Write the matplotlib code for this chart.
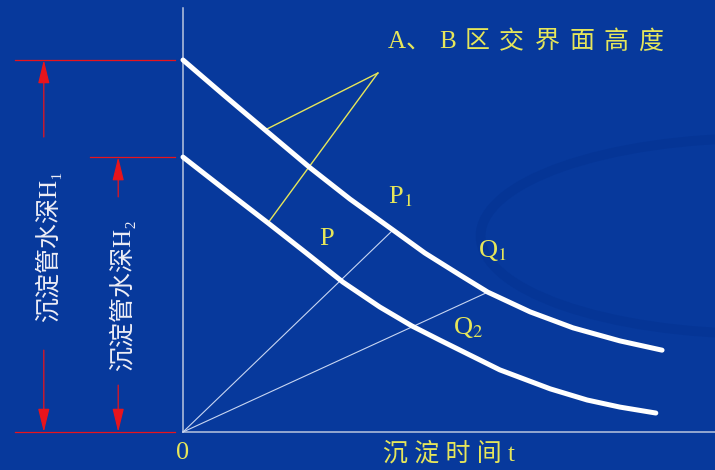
import matplotlib.pyplot as plt
from matplotlib.patches import Ellipse

plt.rcParams['mathtext.fontset'] = 'stix'
FONT = ['Liberation Serif', 'Noto Sans CJK SC', 'DejaVu Sans']

# settling time t and interface height h (arbitrary units)
t_upper = [0.0, 0.875, 1.71, 2.65, 3.48, 4.375, 5.04, 5.77, 6.35, 7.23, 8.125, 9.10, 9.98]
h_upper = [10.0, 9.03, 8.12, 7.10, 6.26, 5.43, 4.81, 4.22, 3.76, 3.23, 2.80, 2.45, 2.20]
t_lower = [0.0, 0.875, 1.77, 2.54, 3.33, 4.10, 4.77, 5.35, 6.60, 7.65, 8.42, 9.10, 9.85]
h_lower = [7.39, 6.51, 5.62, 4.84, 4.03, 3.36, 2.85, 2.47, 1.67, 1.16, 0.86, 0.67, 0.51]

H1 = h_upper[0]
H2 = h_lower[0]
i_p1, i_q1 = 5, 8          # P1 and Q1 on the upper curve
i_lead_u, i_lead_l = 2, 2  # where the leader lines touch the curves
apex = (4.06, 9.65)

BG = '#07399c'
YELLOW = '#e6e65a'
RED = '#e8141c'
AXIS = '#b9c5de'

fig = plt.figure(figsize=(7.15, 4.70), dpi=100, facecolor=BG)
ax = fig.add_axes([0, 0, 1, 1])
ax.set_facecolor(BG)
ax.set_xlim(-3.8125, 11.083)
ax.set_ylim(-1.0215, 11.613)
ax.axis('off')

# faint swoosh of the slide background
ax.add_patch(Ellipse((12.0, 5.27), 11.6, 5.26, fill=False, edgecolor='#053596', lw=7, zorder=0))

# axes
ax.plot([0, 0], [0, 11.4], color=AXIS, lw=1.1, zorder=1)
ax.plot([0, 11.1], [0, 0], color=AXIS, lw=1.1, zorder=1)

# rays from origin to P1 and Q1
for i in (i_p1, i_q1):
    ax.plot([0, t_upper[i]], [0, h_upper[i]], color='#c8d6f2', lw=0.8, zorder=2)

# leader lines for the interface label
ax.plot([apex[0], t_upper[i_lead_u]], [apex[1], h_upper[i_lead_u]], color=YELLOW, lw=1.0, zorder=2)
ax.plot([apex[0], t_lower[i_lead_l]], [apex[1], h_lower[i_lead_l]], color=YELLOW, lw=1.0, zorder=2)

# settling curves
ax.plot(t_upper, h_upper, color='white', lw=3.6, solid_capstyle='round', solid_joinstyle='round', zorder=3)
ax.plot(t_lower, h_lower, color='white', lw=3.6, solid_capstyle='round', solid_joinstyle='round', zorder=3)

# dimension lines
ax.plot([-3.5, -0.17], [H1, H1], color=RED, lw=0.9)
ax.plot([-1.94, -0.17], [H2, H2], color=RED, lw=0.9)
ax.plot([-3.5, -0.17], [0, 0], color=RED, lw=0.9)

arrow = dict(arrowstyle='-|>,head_length=0.9,head_width=0.22', color=RED, lw=0.9,
             mutation_scale=16, shrinkA=0, shrinkB=0)
x1, x2 = -2.90, -1.35
ax.annotate('', xy=(x1, H1), xytext=(x1, 7.93), arrowprops=arrow)
ax.annotate('', xy=(x1, 0), xytext=(x1, 2.20), arrowprops=arrow)
ax.annotate('', xy=(x2, H2), xytext=(x2, 6.32), arrowprops=arrow)
ax.annotate('', xy=(x2, 0), xytext=(x2, 1.26), arrowprops=arrow)

ax.text(-2.81, 5.0, '沉淀管水深H₁', rotation=90, ha='center', va='center',
        fontsize=18, color='#eeeef6', family=FONT)
ax.text(-1.27, 3.68, '沉淀管水深H₂', rotation=90, ha='center', va='center',
        fontsize=18, color='#eeeef6', family=FONT)

# interface label, one glyph at a time for the wide spacing
title_chars = ['A', '、', 'B', '区', '交', '界', '面', '高', '度']
title_x = [4.46, 4.90, 5.52, 6.13, 6.85, 7.60, 8.31, 9.02, 9.75]
for ch, x in zip(title_chars, title_x):
    ax.text(x, 10.48, ch, ha='center', va='center', fontsize=18, color=YELLOW, family=FONT)

ax.text(5.55, -0.57, '沉 淀 时 间 t', ha='center', va='center', fontsize=18,
        color=YELLOW, family=FONT)
ax.text(0, -0.57, '0', ha='center', va='center', fontsize=19, color=YELLOW, family=FONT)

ax.text(2.98, 5.18, 'P', ha='center', va='center', fontsize=19, color=YELLOW, family=FONT)
ax.text(4.27, 6.32, 'P$_1$', ha='left', va='center', fontsize=19, color=YELLOW, family=FONT)
ax.text(6.15, 4.89, 'Q$_1$', ha='left', va='center', fontsize=19, color=YELLOW, family=FONT)
ax.text(5.62, 2.80, 'Q$_2$', ha='left', va='center', fontsize=19, color=YELLOW, family=FONT)

fig.savefig('out.png', dpi=100, facecolor=BG)
